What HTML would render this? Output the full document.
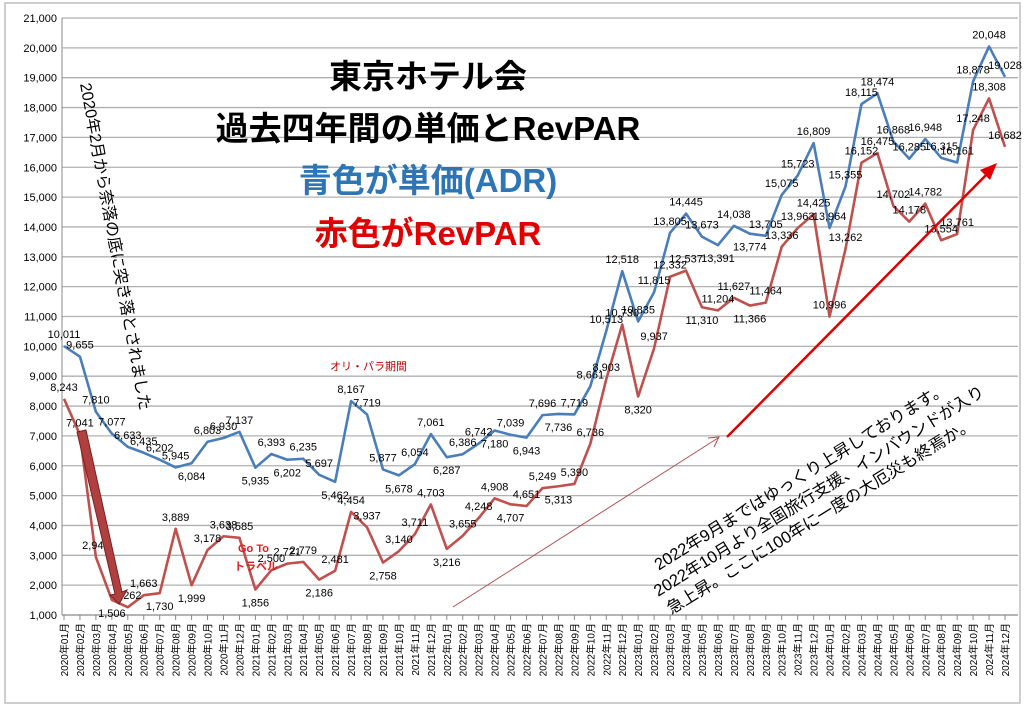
<!DOCTYPE html>
<html><head><meta charset="utf-8">
<style>
html,body{margin:0;padding:0;background:#fff;}
svg{display:block;font-family:"Liberation Sans","Noto Sans CJK JP",sans-serif;}
</style></head>
<body>
<svg id="chart" width="1024" height="724" viewBox="0 0 1024 724">
  <rect x="5" y="3" width="1015" height="700" fill="#fff" stroke="#bdbdbd" stroke-width="1.5"/>
  <g id="grid"></g>
  <g id="yaxis"></g>
  <g id="xaxis"></g>
  <g id="series"></g>
  <g id="labels"></g>
  <g font-weight="bold" text-anchor="middle">
    <text x="428" y="88" font-size="33" fill="#000">東京ホテル会</text>
    <text x="428" y="140" font-size="33" fill="#000">過去四年間の単価とRevPAR</text>
    <text x="428" y="192" font-size="33" fill="#2e75b6">青色が単価(ADR)</text>
    <text x="428" y="245" font-size="33" fill="#e00000">赤色がRevPAR</text>
  </g>
  <text transform="translate(80,84) rotate(79.6)" font-size="16" fill="#000">2020年2月から奈落の底に突き落とされました</text>
  <text x="330" y="370" font-size="11" fill="#c00000">オリ・パラ期間</text>
  <text x="238" y="552" font-size="11" fill="#e02020" font-weight="bold">Go To</text>
  <text x="234" y="570" font-size="11" fill="#e02020" font-weight="bold">トラベル</text>
  <polygon points="77,432 86,430 122,592 127,590 119,604 110,595 115,594" fill="#b04040" stroke="#7a2020" stroke-width="1"/>
  <line x1="453" y1="607" x2="718" y2="438" stroke="#b05050" stroke-width="1"/>
  <polyline points="708,438 719,437 714,447" fill="none" stroke="#b05050" stroke-width="1"/>
  <line x1="727" y1="437" x2="993" y2="168" stroke="#e00000" stroke-width="2.5"/>
  <polygon points="997,163 980,170 990,180" fill="#e00000"/>
  <g transform="translate(815,500) rotate(-31.7)" font-size="16.5" fill="#000" text-anchor="middle">
    <text x="0" y="-22">2022年9月まではゆっくり上昇しております。</text>
    <text x="8" y="0">2022年10月より全国旅行支援、インバウンドが入り</text>
    <text x="-4" y="22">急上昇。ここに100年に一度の大厄災も終焉か。</text>
  </g>
</svg>
<script>
const months = [];
for (let yr = 2020; yr <= 2024; yr++) for (let m = 1; m <= 12; m++) months.push(yr + '年' + String(m).padStart(2,'0') + '月');
const adrValues = [10011,9655,7810,7077,6633,6435,6202,5945,6084,6803,6930,7137,
  5935,6393,6202,6235,5697,5462,8167,7719,5877,5678,6054,7061,
  6287,6386,6742,7180,7039,6943,7696,7736,7719,8661,10513,12518,
  10835,11815,13805,14445,13673,13391,14038,13774,13705,15075,15723,16809,
  13964,15355,18115,18474,16868,16285,16948,16315,16161,18878,20048,19028];
const revparValues = [8243,7041,2941,1506,1262,1663,1730,3889,1999,3178,3638,3585,
  1856,2500,2721,2779,2186,2481,4454,3937,2758,3140,3711,4703,
  3216,3655,4248,4908,4707,4651,5249,5313,5390,6736,8903,10730,
  8320,9937,12332,12537,11310,11204,11627,11366,11464,13336,13963,14425,
  10996,13262,16152,16475,14702,14178,14782,13554,13761,17248,18308,16682];
const yTicks = [1000,2000,3000,4000,5000,6000,7000,8000,9000,10000,11000,12000,13000,14000,15000,16000,17000,18000,19000,20000,21000];
const adrBelow = [8,12,14,17,21,24,27,29,31,41,43];
const revparBelow = [3,6,8,12,16,20,24,28,31,36,40,43];

const NS = 'http://www.w3.org/2000/svg';
const X0 = 64, X1 = 1005, Y0 = 615, Y1 = 18, VMIN = 1000, VMAX = 21000;
function xPos(i){ return X0 + i * (X1 - X0) / (months.length - 1); }
function yPos(v){ return Y0 - (v - VMIN) * (Y0 - Y1) / (VMAX - VMIN); }
function mk(tag, attrs, parent){ const e = document.createElementNS(NS, tag); for (const k in attrs) e.setAttribute(k, attrs[k]); parent.appendChild(e); return e; }
const fmt = v => v.toLocaleString('en-US');

const grid = document.getElementById('grid'), yax = document.getElementById('yaxis'), xax = document.getElementById('xaxis');
yTicks.forEach(t => {
  const l = mk('line', {x1: 62, x2: 1018, y1: yPos(t), y2: yPos(t), stroke: t === VMIN ? '#888' : '#b0b0b0', 'stroke-width': 1.3}, grid);
  
  
  const tx = mk('text', {x: 57, y: yPos(t) + 4, 'font-size': 11, 'text-anchor': 'end', fill: '#000'}, yax);
  tx.textContent = fmt(t);
  
  
});
mk('line', {x1: 62, x2: 62, y1: Y1, y2: Y0, stroke: '#888'}, yax);
months.forEach((m, i) => {
  const x = xPos(i);
  const tk = mk('line', {x1: x, x2: x, y1: Y0, y2: Y0 + 5, stroke: '#888'}, xax);
  
  
  const tx = mk('text', {transform: `translate(${x + 4},${Y0 + 8}) rotate(-90)`, 'font-size': 10, 'text-anchor': 'end', fill: '#000'}, xax);
  tx.textContent = m;
  
  
});

const ser = document.getElementById('series'), lab = document.getElementById('labels');
function drawSeries(vals, color, name, below){
  const pl = mk('polyline', {points: vals.map((v,i) => xPos(i) + ',' + yPos(v)).join(' '), fill: 'none', stroke: color, 'stroke-width': 2.6, 'stroke-linejoin': 'round'}, ser);
  
  
  vals.forEach((v, i) => {
    const dy = below.includes(i) ? 17 : -8;
    const t = mk('text', {x: xPos(i), y: yPos(v) + dy, 'font-size': 11, 'text-anchor': 'middle', fill: '#000'}, lab);
    t.textContent = fmt(v);
    
    
  });
}
drawSeries(revparValues, '#c0504d', 'revpar', revparBelow);
drawSeries(adrValues, '#4a7ebb', 'adr', adrBelow);
</script>
</body></html>
